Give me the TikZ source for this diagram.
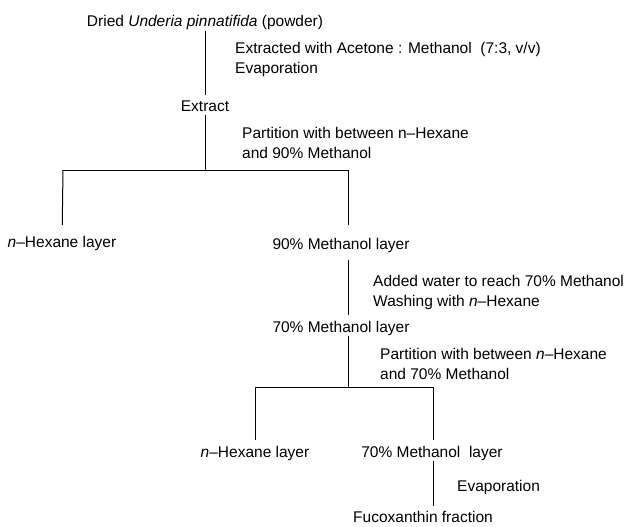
\documentclass[tikz,border=0pt]{standalone}
\usepackage{fontspec}
\setmainfont{Liberation Sans}
\usetikzlibrary{calc, positioning}
\tikzset{
	stage/.style={inner sep=1pt, text height=11pt, text depth=3pt, font=\fontsize{15.5}{20}\selectfont},
	note/.style={anchor=west, align=left, inner sep=0pt, font=\fontsize{15.5}{20}\selectfont},
	flow/.style={line width=1pt}
}
\newcommand{\nhex}{\textit{n}--Hexane}

\begin{document}
\begin{tikzpicture}[x=1pt, y=-1pt]
	\useasboundingbox (0,0) rectangle (638,527);
	% stages
	\node[stage] (dried) at (205,23) {Dried \textit{Underia pinnatifida} (powder)};
	\node[stage] (extract) at (205,107) {Extract};
	\node[stage] (hexA) at (62,243) {\nhex{} layer};
	\node[stage] (meohA) at (341,245) {90\% Methanol layer};
	\node[stage] (meohB) at (341,328) {70\% Methanol layer};
	\node[stage] (hexB) at (255,453) {\nhex{} layer};
	\node[stage] (meohC) at (432,453) {70\% Methanol~~layer};
	\node[stage] (fuco) at (423,518) {Fucoxanthin fraction};
	% split points
	\coordinate (splitA) at (205,170);
	\coordinate (splitAl) at (63,170);
	\coordinate (splitAr) at (348,170);
	\coordinate (splitB) at (348,387);
	\coordinate (splitBl) at (255,387);
	\coordinate (splitBr) at (433,387);
	% treatments
	\node[note] (extracting) at (235,59) {Extracted with Acetone : Methanol~~(7:3, v/v)\\Evaporation};
	\node[note] (partA) at (242,143) {Partition with between n--Hexane\\and 90\% Methanol};
	\node[note] (washing) at (373,292) {Added water to reach 70\% Methanol\\Washing with \nhex};
	\node[note] (partB) at (380,364) {Partition with between \nhex\\and 70\% Methanol};
	\node[note] (evap) at (457,487) {Evaporation};
	% connectors
	\draw[flow, shorten >=4pt] (dried) -- (extract);
	\draw[flow] (extract) -- (splitA);
	\draw[flow] (splitAl) -- (splitAr);
	\draw[flow, shorten >=10pt] (splitAl) -- (hexA);
	\draw[flow, shorten >=12pt] (splitAr) -- (splitAr |- meohA.north);
	\draw[flow, shorten <=7pt, shorten >=5pt] (meohA.south -| splitAr) -- (meohB.north -| splitAr);
	\draw[flow] (meohB.south -| splitB) -- (splitB);
	\draw[flow] (splitBl) -- (splitBr);
	\draw[flow, shorten >=5pt] (splitBl) -- (hexB);
	\draw[flow, shorten >=5pt] (splitBr) -- (splitBr |- meohC.north);
	\draw[flow, shorten >=4pt] (meohC.south -| splitBr) -- (fuco.north -| splitBr);
\end{tikzpicture}
\end{document}
